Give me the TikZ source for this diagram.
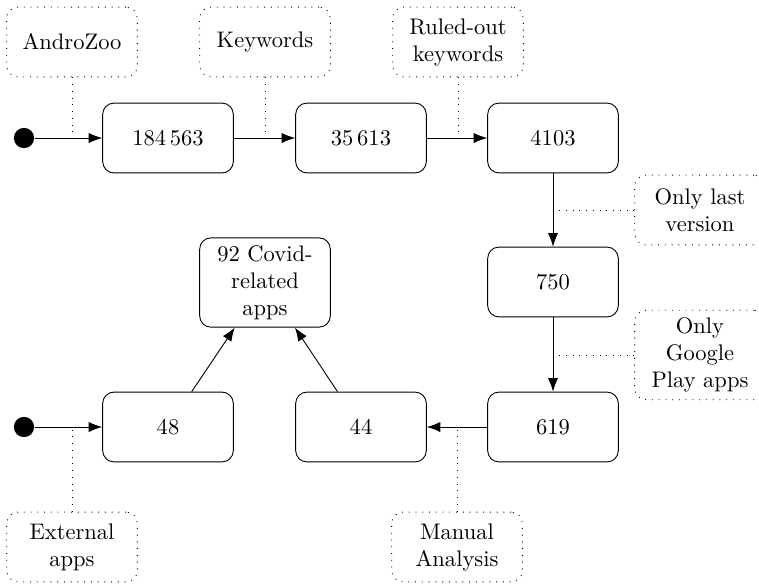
\documentclass[tikz,border=0pt]{standalone}
\usetikzlibrary{arrows.meta}
\begin{document}
\begin{tikzpicture}[x=0.444pt,y=-0.444pt,
  box/.style={draw,rounded corners=5pt,minimum width=58pt,minimum height=31pt,text width=48pt,align=center,inner sep=3.33pt},
  note/.style={draw,dash pattern=on 0.4pt off 2.6pt,rounded corners=5pt,minimum width=58pt,minimum height=31pt,text width=48pt,align=center,inner sep=3.33pt},
  flow/.style={-{Latex[length=6pt,width=4.5pt]}},
  link/.style={dash pattern=on 0.4pt off 2.6pt},
  startdot/.style={circle,fill=black,inner sep=0pt,minimum size=9pt}]
\useasboundingbox (0,0) rectangle (759,583);
% main boxes
\node[box] (b1) at (168,138) {184\,563};
\node[box] (b2) at (361,138) {35\,613};
\node[box] (b3) at (553,138) {4103};
\node[box] (b4) at (553,282) {750};
\node[box] (b5) at (553,427) {619};
\node[box] (b6) at (361,427) {44};
\node[box] (b7) at (168,427) {48};
\node[box] (b8) at (265,282.5) {92 Covid-related apps};
% start dots
\node[startdot] (d1) at (24,138) {};
\node[startdot] (d2) at (24,427) {};
% notes
\node[note] (nA) at (72,42) {AndroZoo};
\node[note] (nK) at (265,42) {Keywords};
\node[note] (nR) at (458,42) {Ruled-out keywords};
\node[note] (nL) at (700,210) {Only last version};
\node[note] (nG) at (700,355) {Only Google Play apps};
\node[note] (nE) at (72,547) {External apps};
\node[note] (nM) at (457,547) {Manual Analysis};
% flow arrows
\draw[flow] (d1) -- (b1);
\draw[flow] (b1) -- (b2);
\draw[flow] (b2) -- (b3);
\draw[flow] (b3) -- (b4);
\draw[flow] (b4) -- (b5);
\draw[flow] (b5) -- (b6);
\draw[flow] (d2) -- (b7);
\draw[flow] (b7) -- (b8);
\draw[flow] (b6) -- (b8);
% dotted links
\draw[link] (nA.south) -- (nA.south |- d1.center);
\draw[link] (nK.south) -- (nK.south |- b1.east);
\draw[link] (nR.south) -- (nR.south |- b2.east);
\draw[link] (nL.west) -- (nL.west -| b3.south);
\draw[link] (nG.west) -- (nG.west -| b4.south);
\draw[link] (nE.north) -- (nE.north |- d2.center);
\draw[link] (nM.north) -- (nM.north |- b5.west);
\end{tikzpicture}
\end{document}
